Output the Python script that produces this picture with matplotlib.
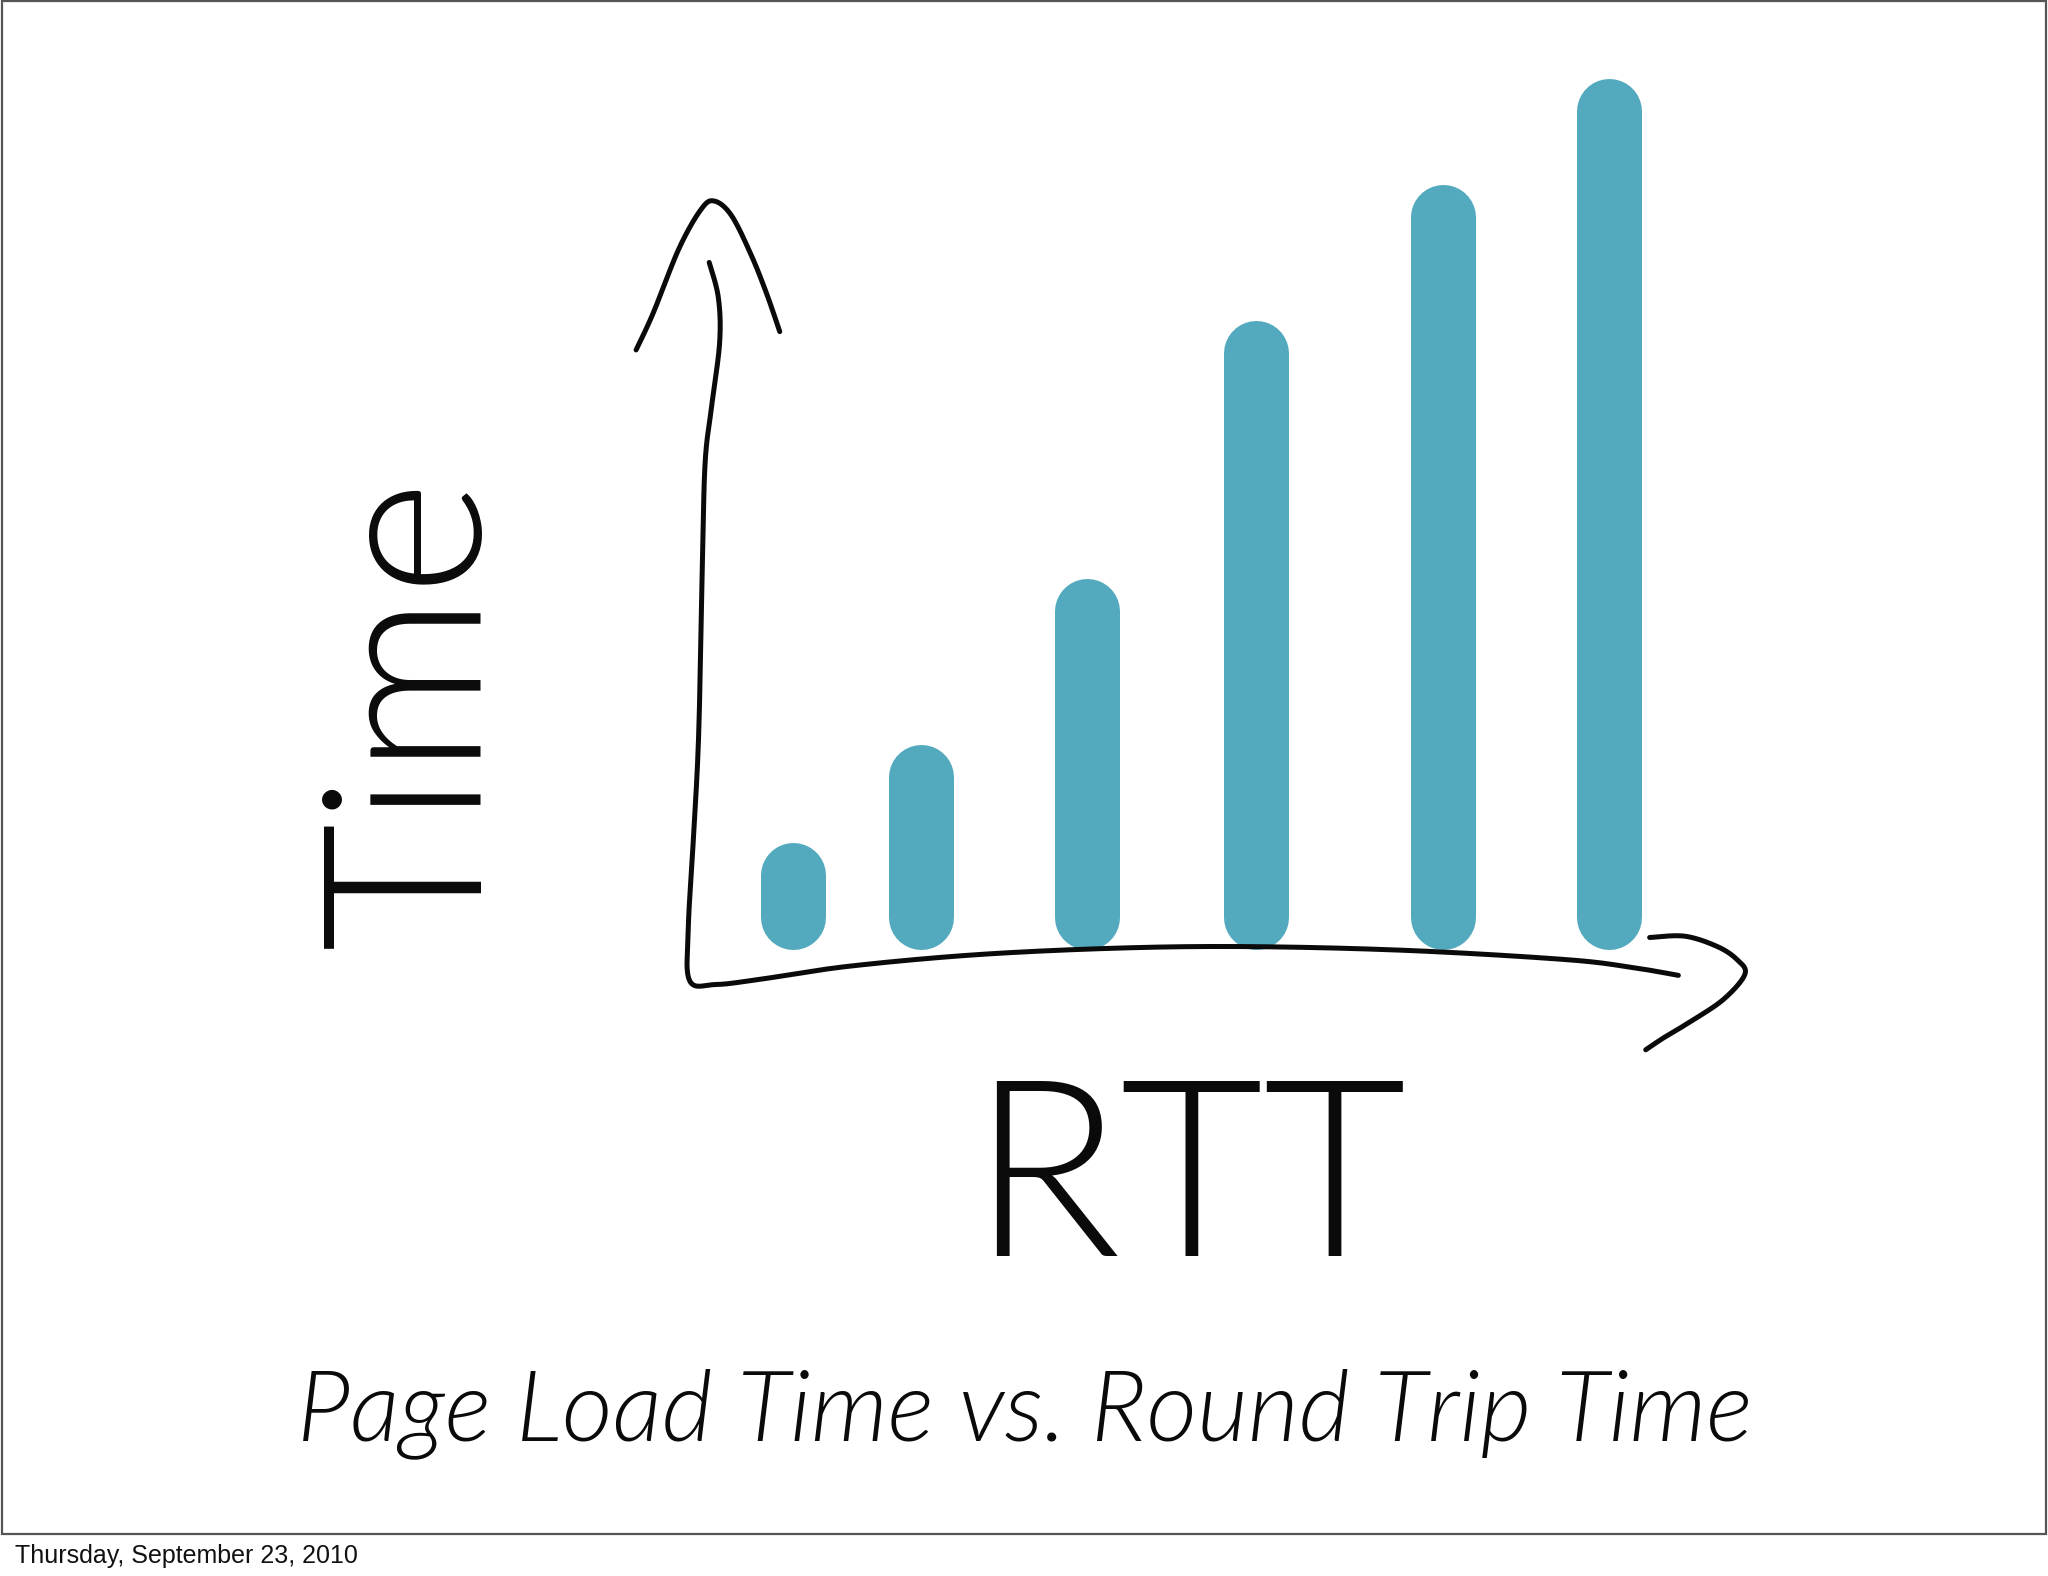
import numpy as np
import matplotlib
matplotlib.use("Agg")
from matplotlib import pyplot as plt
from matplotlib.patches import Rectangle

# bar data: RTT position and page load time (arbitrary units)
rtt = [0.8, 1.78, 3.05, 4.35, 5.78, 7.05]
load_time = [0.32, 1.07, 2.34, 4.32, 5.36, 6.17]

title = "Page Load Time vs. Round Trip Time"
x_label = "RTT"
y_label = "Time"
footer = "Thursday, September 23, 2010"

bar_color = "#53A9BD"
ink = "#0a0a0a"

W, H = 1568.0, 1207.0  # sketch coordinates (shown scale)


def f(pts):
    # sketch px -> figure fraction
    pts = np.asarray(pts, dtype=float)
    return pts[:, 0] / W, 1 - pts[:, 1] / H


def smooth(pts, n=20):
    # catmull-rom through the stroke points
    p = np.asarray(pts, dtype=float)
    p = np.vstack([p[0], p, p[-1]])
    out = []
    for i in range(1, len(p) - 2):
        p0, p1, p2, p3 = p[i - 1], p[i], p[i + 1], p[i + 2]
        t = np.linspace(0, 1, n)[:, None]
        seg = 0.5 * ((2 * p1) + (-p0 + p2) * t + (2 * p0 - 5 * p1 + 4 * p2 - p3) * t ** 2
                     + (-p0 + 3 * p1 - 3 * p2 + p3) * t ** 3)
        out.append(seg)
    return np.vstack(out)


fig = plt.figure(figsize=(20.48, 15.76), dpi=100)
fig.patch.set_facecolor("white")

# slide border
fig.add_artist(Rectangle((0.0008, 1 - 1534 / 1576), 0.998, 1534 / 1576 - 0.0008,
                         transform=fig.transFigure, fill=False, edgecolor="#555555", lw=1.6))

ax = fig.add_axes([527 / W, 1 - 752 / H, (1335 - 527) / W, (752 - 50) / H])
ax.set_xlim(0, 8.08)
ax.set_ylim(-0.5, 6.52)
ax.axis("off")

for x, v in zip(rtt, load_time):
    ax.plot([x, x], [0, v], color=bar_color, lw=46.8, solid_capstyle="round", clip_on=False)

# hand drawn axes
axis_pts = [(543, 201), (550, 228), (551, 262), (545, 310), (540, 352), (538, 420),
            (535, 560), (531, 640), (527, 710), (528, 751), (548, 754), (582, 750),
            (650, 740), (750, 731), (860, 726), (960, 725), (1080, 728), (1200, 735),
            (1250, 741), (1285, 747)]
y_head = [(487, 268), (500, 240), (520, 190), (537, 160), (547, 154), (560, 165),
          (575, 195), (587, 225), (597, 254)]
x_head = [(1263, 718), (1290, 717), (1315, 725), (1330, 735), (1336, 746), (1320, 765),
          (1295, 782), (1275, 794), (1260, 804)]
for stroke in (axis_pts, y_head, x_head):
    xs, ys = f(smooth(stroke))
    fig.add_artist(plt.Line2D(xs, ys, transform=fig.transFigure, color=ink, lw=3.6,
                              solid_capstyle="round", solid_joinstyle="round"))

# labels
fig.text(320 / W, 1 - 545 / H, y_label, rotation=90, ha="center", va="center",
         fontsize=160, family="Lato", weight=300, color=ink)
fig.text(910 / W, 1 - 910 / H, x_label, ha="center", va="center",
         fontsize=178, family="Lato", weight=300, color=ink)
fig.text(785 / W, 1 - 1103 / H, title, ha="center", va="baseline",
         fontsize=71, family="Lato", weight=300, style="italic", color=ink)

fig.text(15 / 2048, 1 - 1563 / 1576, footer, ha="left", va="baseline",
         fontsize=18, family="Liberation Sans", color="#111111")

fig.savefig("out.png", dpi=100, facecolor="white")
